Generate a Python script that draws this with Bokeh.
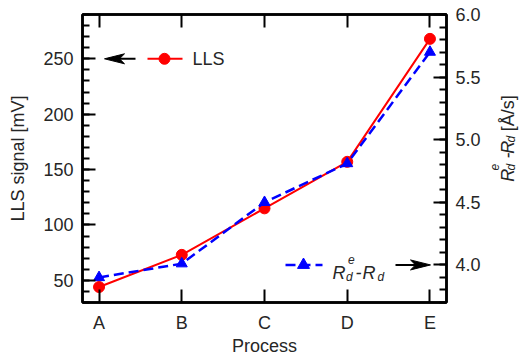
import math
from bokeh.plotting import figure
from bokeh.layouts import row
from bokeh.models import (Range1d, LinearAxis, FixedTicker, SingleIntervalTicker, Label,
                          PrintfTickFormatter)
from bokeh.embed import file_html
from bokeh.resources import INLINE

# ---- data ----
processes = ["A", "B", "C", "D", "E"]
lls_signal = [44, 73, 115, 157, 268]          # left axis [mV]
rate_diff = [3.90, 4.01, 4.50, 4.81, 5.70]     # right axis [Å/s]
left_range = (30, 290)
right_range = (3.7, 6.0)
x_range = (-0.2, 4.2)

xpos = list(range(len(processes)))

# ---- style ----
FONT = "Liberation Sans"
TXT = "#262626"
TOTAL_W, H = 519, 358
BL, BR, BT, BB = 82, 40, 14, 55
FW = 364
W = BL + FW + BR
FH = H - BT - BB
SIDE_W = TOTAL_W - W


def dx(px):
    return px * (x_range[1] - x_range[0]) / FW


def dyl(px):
    return px * (left_range[1] - left_range[0]) / FH


def dyr(px):
    return px * (right_range[1] - right_range[0]) / FH


p = figure(width=W, height=H, output_backend="svg", toolbar_location=None,
           x_range=Range1d(*x_range), y_range=Range1d(*left_range),
           min_border_left=BL, min_border_right=BR, min_border_top=BT, min_border_bottom=BB,
           background_fill_color="white", border_fill_color="white")
p.extra_y_ranges = {"r": Range1d(*right_range)}
p.xgrid.visible = False
p.ygrid.visible = False
p.outline_line_color = "black"
p.outline_line_width = 2.5


def style_axis(ax):
    ax.axis_line_width = 2.5
    ax.axis_line_color = "black"
    ax.major_tick_line_width = 2
    ax.minor_tick_line_width = 2
    ax.major_tick_in = 13
    ax.major_tick_out = 0
    ax.minor_tick_in = 7
    ax.minor_tick_out = 0
    ax.major_label_text_font = FONT
    ax.major_label_text_color = TXT
    ax.major_label_text_font_size = "18px"
    ax.axis_label_text_font = FONT
    ax.axis_label_text_font_size = "18px"
    ax.axis_label_text_font_style = "normal"
    ax.axis_label_text_color = TXT


# bottom x axis
xa = p.xaxis[0]
xa.ticker = FixedTicker(ticks=xpos)
xa.major_label_overrides = {i: s for i, s in zip(xpos, processes)}
style_axis(xa)
xa.major_label_standoff = 10
xa.axis_label = "Process"
xa.axis_label_standoff = 0

# top axis (ticks only, no labels)
ta = LinearAxis(ticker=FixedTicker(ticks=xpos))
style_axis(ta)
ta.major_label_text_alpha = 0
ta.major_label_overrides = {i: " " for i in xpos}
ta.major_label_standoff = 0
p.add_layout(ta, "above")

# left axis
ya = p.yaxis[0]
ya.ticker = SingleIntervalTicker(interval=50, num_minor_ticks=5)
style_axis(ya)
ya.major_label_standoff = 9
ya.axis_label = "LLS signal [mV]"
ya.axis_label_standoff = 12

# right axis
ra = LinearAxis(y_range_name="r", ticker=SingleIntervalTicker(interval=0.5, num_minor_ticks=5),
                formatter=PrintfTickFormatter(format="%.1f"))
style_axis(ra)
ra.major_label_standoff = 9
p.add_layout(ra, "right")

# ---- data series ----
p.line(xpos, lls_signal, line_color="#ff0000", line_width=2)
p.scatter(xpos, lls_signal, marker="circle", size=11, fill_color="#ff0000", line_color="#ff0000")
p.line(xpos, rate_diff, y_range_name="r", line_color="#0000ff", line_width=2.5, line_dash="10 5")
p.scatter(xpos, rate_diff, y_range_name="r", marker="triangle", size=11,
          fill_color="#0000ff", line_color="#0000ff")

# ---- legends (manual) ----
x0 = x_range[0]
# LLS legend, pointing to the left axis
ly = 250
p.line([x0 + dx(65), x0 + dx(100)], [ly, ly], line_color="#ff0000", line_width=2)
p.scatter([x0 + dx(82)], [ly], marker="circle", size=11, fill_color="#ff0000", line_color="#ff0000")
p.add_layout(Label(x=x0 + dx(110), y=ly, text="LLS", text_font=FONT, text_font_size="18px",
                   text_color=TXT, text_baseline="middle", text_align="left"))
tip = x0 + dx(22)
p.line([tip + dx(14), x0 + dx(53)], [ly, ly], line_color="black", line_width=2)
p.patch([tip, tip + dx(20), tip + dx(15), tip + dx(20)],
        [ly, ly + dyl(5), ly, ly - dyl(5)], fill_color="black", line_color="black", line_width=1)

# Rd legend, pointing to the right axis
ry = 4.0
p.line([x0 + dx(203), x0 + dx(240)], [ry, ry], y_range_name="r", line_color="#0000ff",
       line_width=2.5, line_dash="10 5")
p.scatter([x0 + dx(221)], [ry], y_range_name="r", marker="triangle", size=12,
          fill_color="#0000ff", line_color="#0000ff")
pieces = [("R", 250, 0, "18px"), ("d", 263.5, -4, "12px"), ("e", 265.5, 13, "12px"),
          ("-", 273, 0, "18px"), ("R", 280, 0, "18px"), ("d", 295, -4, "12px")]
for t, px, raise_, fs in pieces:
    p.add_layout(Label(x=x0 + dx(px), y=ry, y_range_name="r", text=t, text_font=FONT,
                       text_font_size=fs, text_font_style="italic", text_color=TXT,
                       text_baseline="alphabetic", text_align="left", y_offset=-7.7 + raise_))
rtip = x_range[1] - dx(16)
p.line([rtip - dx(14), x_range[1] - dx(51)], [ry, ry], y_range_name="r", line_color="black", line_width=2)
p.patch([rtip, rtip - dx(20), rtip - dx(15), rtip - dx(20)],
        [ry, ry + dyr(5), ry, ry - dyr(5)], y_range_name="r",
        fill_color="black", line_color="black", line_width=1)

# ---- right axis title (rich text, rotated) in a narrow side panel ----
q = figure(width=SIDE_W, height=H, output_backend="svg", toolbar_location=None,
           x_range=Range1d(0, SIDE_W), y_range=Range1d(H, 0),
           min_border=0, background_fill_color="white", border_fill_color="white")
q.axis.visible = False
q.grid.visible = False
q.outline_line_color = None
# (text, start y px, baseline x px within the side panel, size, style)
bx = 507 - W
rpieces = [("R", 208, bx, "18px", "italic"), ("d", 194, bx + 3.5, "12px", "italic"),
           ("e", 194, bx - 13, "12px", "italic"), ("-", 179, bx, "18px", "italic"),
           ("R", 173, bx, "18px", "italic"), ("d", 159, bx + 3.5, "12px", "italic"),
           ("[Å/s]", 145, bx, "18px", "normal")]
for t, ys, xb, fs, st in rpieces:
    q.add_layout(Label(x=xb, y=ys, text=t, text_font=FONT, text_font_size=fs,
                       text_font_style=st, text_color=TXT, angle=math.pi / 2,
                       text_baseline="alphabetic", text_align="left"))

layout = row(p, q, spacing=0)
open("out.html", "w").write(file_html(layout, INLINE))
